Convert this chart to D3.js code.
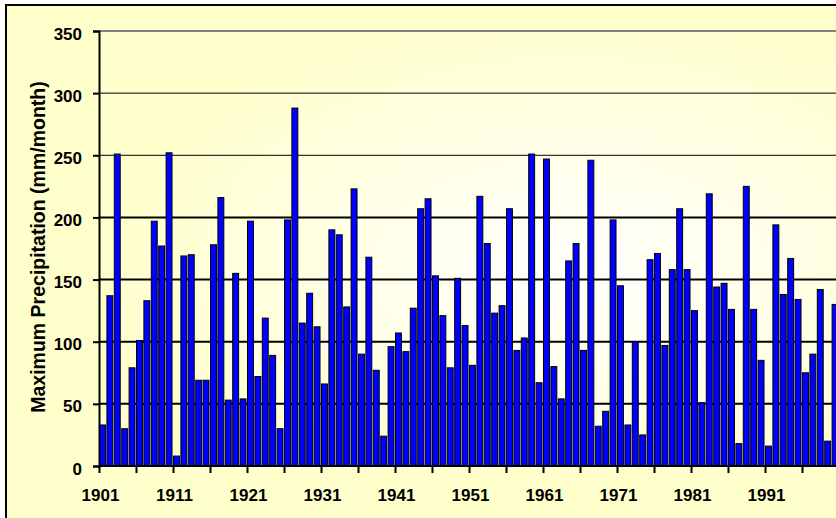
<!DOCTYPE html>
<html>
<head>
<meta charset="utf-8">
<script src="https://cdn.jsdelivr.net/npm/d3@7"></script>
<style>
  body { margin: 0; background: #fff; }
  svg text { font-family: Arial, "Liberation Sans", sans-serif; font-weight: bold; fill: #000; }
</style>
</head>
<body>
<div id="chart"></div>
<script>
// years on the category axis
var years = d3.range(1901, 2001)

// maximum monthly precipitation per year (mm/month)
var maxPrecip = [
  33, 137, 251, 30, 79, 101, 133, 197, 177, 252,
  8, 169, 170, 69, 69, 178, 216, 53, 155, 54,
  197, 72, 119, 89, 30, 198, 288, 115, 139, 112,
  66, 190, 186, 128, 223, 90, 168, 77, 24, 96,
  107, 92, 127, 207, 215, 153, 121, 79, 151, 113,
  81, 217, 179, 123, 129, 207, 93, 103, 251, 67,
  247, 80, 54, 165, 179, 93, 246, 32, 44, 198,
  145, 33, 100, 25, 166, 171, 97, 158, 207, 158,
  125, 51, 219, 144, 147, 126, 18, 225, 126, 85,
  16, 194, 138, 167, 134, 75, 90, 142, 20, 130
]

var yTicks = [0, 50, 100, 150, 200, 250, 300, 350]
var xTickYears = years.filter(function(d) { return (d - 1901) % 5 === 0 })
var yTitle = "Maximum Precipitation (mm/month)"

var width = 836
var height = 518
var plotLeft = 99
var plotTop = 31
var plotBottom = 466
var step = 7.4

var svg = d3.select("#chart")
  .append("svg")
    .attr("width", width)
    .attr("height", height)

// background gradient of the plot area, whitest a bit right of centre
var defs = svg.append("defs")
var grad = defs.append("radialGradient")
    .attr("id", "plotBg")
    .attr("cx", "0.62").attr("cy", "0.55").attr("r", "0.62")
grad.append("stop").attr("offset", "0").attr("stop-color", "#ffffff")
grad.append("stop").attr("offset", "0.25").attr("stop-color", "#fffff2")
grad.append("stop").attr("offset", "1").attr("stop-color", "#ffffcc")

// chart area, its frame runs off the picture on the right and bottom
svg.append("rect")
    .attr("x", 6).attr("y", 5)
    .attr("width", 860).attr("height", 540)
    .attr("fill", "#ffffcc")
    .attr("stroke", "#000")
    .attr("stroke-width", 2)

svg.append("rect")
    .attr("x", plotLeft).attr("y", plotTop)
    .attr("width", 760).attr("height", plotBottom - plotTop)
    .attr("fill", "url(#plotBg)")

var x = d3.scaleBand()
  .domain(years)
  .range([plotLeft + 0.5, plotLeft + 0.5 + step * (years.length - 0.2)])
  .paddingInner(0.2)
  .paddingOuter(0)

// tick marks sit on the left edge of each category
var xt = d3.scaleLinear()
  .domain([1901, 2000])
  .range([plotLeft, plotLeft + step * 99])

var y = d3.scaleLinear()
  .domain([0, 350])
  .range([plotBottom, plotTop])

// gridlines
svg.append("g")
  .selectAll("line")
  .data(yTicks.filter(function(d) { return d > 0 }))
  .enter()
  .append("line")
    .attr("x1", plotLeft).attr("x2", width + 10)
    .attr("y1", function(d) { return y(d) })
    .attr("y2", function(d) { return y(d) })
    .attr("stroke", function(d) { return d === 350 ? "#808080" : "#000" })
    .attr("stroke-width", function(d) { return (d === 350 || d <= 200) ? 2 : 1 })

// bars
svg.append("g")
  .selectAll("rect")
  .data(years)
  .enter()
  .append("rect")
    .attr("x", function(d) { return x(d) })
    .attr("width", x.bandwidth())
    .attr("y", function(d, i) { return y(maxPrecip[i]) })
    .attr("height", function(d, i) { return plotBottom - y(maxPrecip[i]) })
    .attr("fill", "#0000ff")
    .attr("stroke", "#000")
    .attr("stroke-width", 1)

// y axis
var yAxis = svg.append("g")
  .attr("transform", "translate(" + plotLeft + ",0)")
  .call(d3.axisLeft(y).tickValues(yTicks).tickSize(6).tickPadding(11))
yAxis.select(".domain").attr("stroke", "#000").attr("stroke-width", 2)
yAxis.selectAll(".tick line").attr("stroke", "#000").attr("stroke-width", 2)
yAxis.selectAll(".tick text")
  .attr("dy", "0.47em")
  .style("font-size", "17px")
  .style("font-family", "Arial, 'Liberation Sans', sans-serif")
  .style("font-weight", "bold")
  .attr("fill", "#000")

// x axis
var xAxis = svg.append("g")
  .attr("transform", "translate(0," + plotBottom + ")")
  .call(d3.axisBottom(xt)
    .tickValues(xTickYears)
    .tickSize(7)
    .tickPadding(16)
    .tickFormat(function(d) { return (d - 1901) % 10 === 0 ? d : "" }))
xAxis.select(".domain")
  .attr("d", "M" + plotLeft + ",0H" + (width + 10))
  .attr("stroke", "#000").attr("stroke-width", 2)
xAxis.selectAll(".tick line").attr("stroke", "#000").attr("stroke-width", 2)
xAxis.selectAll(".tick text")
  .attr("dx", 1)
  .style("font-size", "17px")
  .style("font-family", "Arial, 'Liberation Sans', sans-serif")
  .style("font-weight", "bold")
  .attr("fill", "#000")

// axis title
svg.append("text")
  .attr("transform", "translate(45,247) rotate(-90)")
  .attr("text-anchor", "middle")
  .style("font-size", "19.5px")
  .text(yTitle)
</script>
</body>
</html>
